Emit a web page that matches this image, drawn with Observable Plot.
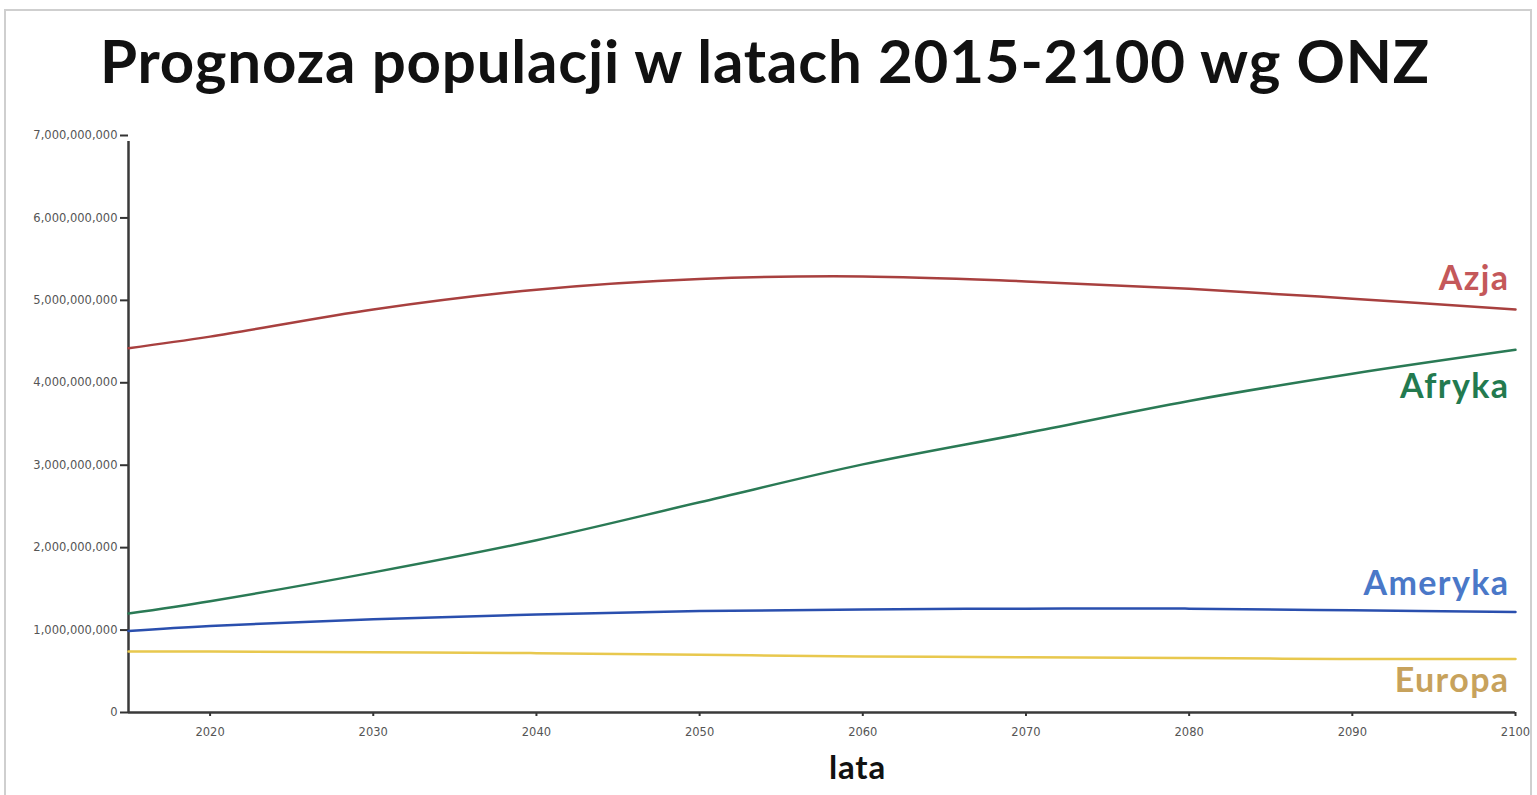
<!DOCTYPE html>
<html>
<head>
<meta charset="utf-8">
<script src="https://cdn.jsdelivr.net/npm/d3@7"></script>
<script src="https://cdn.jsdelivr.net/npm/@observablehq/plot@0.6"></script>
<style>
  html, body { margin: 0; padding: 0; background: #fff; }
  #frame { position: absolute; left: 4px; top: 9px; width: 1528px; height: 790px; border: 2px solid #cfcfcf; box-sizing: border-box; }
  #title { position: absolute; left: 0; top: 24px; width: 1537px; text-align: left; padding-left: 100px; box-sizing: border-box;
           font-family: Lato, "Open Sans", sans-serif; font-weight: 700; font-size: 60px; letter-spacing: 0.8px; color: #111; white-space: nowrap; }
  #chart { position: absolute; left: 0; top: 110px; }
  #xlabel { position: absolute; left: 829px; top: 746px;
            font-family: Lato, "Open Sans", sans-serif; font-weight: 700; font-size: 33px; letter-spacing: 0.8px; color: #111; }
  .lbl text { letter-spacing: 1.4px; }
</style>
</head>
<body>
<div id="frame"></div>
<div id="title">Prognoza populacji w latach 2015-2100 wg ONZ</div>
<div id="chart"></div>
<div id="xlabel">lata</div>
<script>
const years    = [2015, 2020, 2030, 2040, 2050, 2060, 2070, 2080, 2090, 2100];
const azja     = [4.42e9, 4.56e9, 4.89e9, 5.13e9, 5.26e9, 5.29e9, 5.23e9, 5.14e9, 5.02e9, 4.89e9];
const afryka   = [1.20e9, 1.35e9, 1.70e9, 2.09e9, 2.55e9, 3.01e9, 3.39e9, 3.78e9, 4.11e9, 4.40e9];
const ameryka  = [0.99e9, 1.05e9, 1.13e9, 1.19e9, 1.23e9, 1.25e9, 1.26e9, 1.26e9, 1.24e9, 1.22e9];
const europa   = [0.74e9, 0.74e9, 0.73e9, 0.72e9, 0.70e9, 0.68e9, 0.67e9, 0.66e9, 0.65e9, 0.65e9];
const seriesNames = ["Azja", "Afryka", "Ameryka", "Europa"];
const yTicks = [0, 1e9, 2e9, 3e9, 4e9, 5e9, 6e9, 7e9];
const xTicks = [2020, 2030, 2040, 2050, 2060, 2070, 2080, 2090, 2100];

const seriesValues = [azja, afryka, ameryka, europa];
const lineColors  = {Azja: "#a8403f", Afryka: "#2a7a55", Ameryka: "#2a4fae", Europa: "#e8c84e"};
const labelColors = {Azja: "#c4585a", Afryka: "#237a4f", Ameryka: "#4a78c8", Europa: "#c7a25c"};
const labelDy     = {Azja: -30, Afryka: 37, Ameryka: -28, Europa: 22};

const data = [];
seriesNames.forEach((name, i) => years.forEach((yr, j) => data.push({name, year: yr, value: seriesValues[i][j]})));
const lastPoints = seriesNames.map((name, i) => ({name, year: years[years.length - 1], value: seriesValues[i][years.length - 1]}));

const plot = Plot.plot({
  width: 1537,
  height: 685,
  marginLeft: 128,
  marginRight: 22,
  marginTop: 25,
  marginBottom: 83,
  style: {background: "transparent", fontFamily: "'DejaVu Sans', sans-serif"},
  x: {domain: [2015, 2100], ticks: xTicks, tickFormat: d => String(d), label: null, tickSize: 5},
  y: {domain: [0, 7e9], ticks: yTicks, tickFormat: d3.format(","), label: null, tickSize: 8},
  marks: [
    Plot.axisY({ticks: yTicks, tickFormat: d3.format(","), tickSize: 8, fontSize: 11.5, color: "#555", tickPadding: 3, stroke: "#333", strokeWidth: 2, label: null}),
    Plot.axisX({ticks: xTicks, tickFormat: d => String(d), tickSize: 4, fontSize: 11.5, color: "#555", tickPadding: 11, stroke: "#333", strokeWidth: 2, label: null}),
    Plot.ruleX([2015], {y1: 0, y2: 7e9, stroke: "#3a3a3a", strokeWidth: 2.5, insetBottom: -6}),
    Plot.ruleY([0], {x1: 2015, x2: 2100, stroke: "#3a3a3a", strokeWidth: 2.5}),
    Plot.line(data, {x: "year", y: "value", z: "name", stroke: d => lineColors[d.name], strokeWidth: 2.5, curve: "catmull-rom"}),
    ...seriesNames.map(n => Plot.text(lastPoints.filter(d => d.name === n), {
      x: "year", y: "value", text: "name", textAnchor: "end", dx: -6, dy: labelDy[n],
      fill: labelColors[n], fontSize: 34, fontWeight: 700, fontFamily: "Lato, 'Open Sans', sans-serif", className: "lbl"
    }))
  ]
});
document.getElementById("chart").appendChild(plot);
</script>
</body>
</html>
